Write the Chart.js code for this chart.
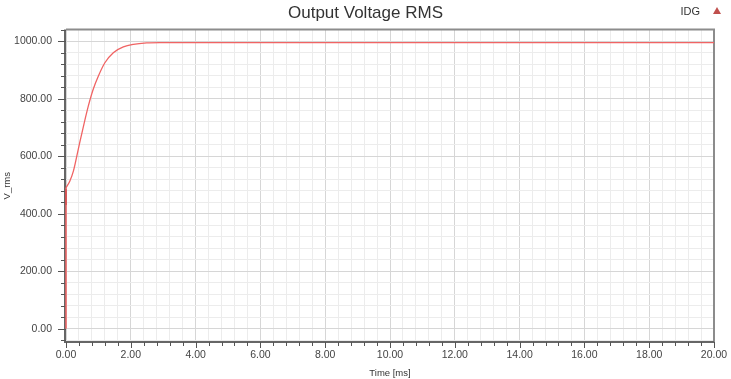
<!DOCTYPE html>
<html><head><meta charset="utf-8">
<script src="https://cdn.jsdelivr.net/npm/chart.js@4"></script>
<style>html,body{margin:0;padding:0;background:#fff}</style>
</head><body>
<canvas id="c" width="731" height="379"></canvas>
<script>
// ---- data ----
const chartTitle = 'Output Voltage RMS';
const seriesName = 'IDG';
const xTitle = 'Time [ms]';
const yTitle = 'V_rms';
const timeMs = [0, 0.12, 0.23, 0.38, 0.54, 0.69, 0.84, 1.0, 1.2, 1.46, 1.77, 2.08, 2.49, 2.9, 6, 10, 14, 20];
const vRms   = [490, 514, 549, 625, 705, 775, 833, 879, 925, 960, 980, 989, 994, 995, 995, 995, 995, 995];
const startTime = [0, 0];
const startV = [0, 490];
const darkTime = [0, 0];
const darkV = [430, 485];
const xMin = 0, xMax = 20, xTickStep = 0.4, xLabelStep = 2;
const yMin = -46, yMax = 1041, yTickStep = 40, yLabelStep = 200;

const toPts = (xs, ys) => xs.map((x, i) => ({x: x, y: ys[i]}));
const isMajor = (v, step) => Math.abs(v / step - Math.round(v / step)) < 1e-6;
const stepTicks = (min, max, step) => {
  const out = [];
  for (let k = Math.ceil(min / step); k * step <= max + 1e-9; k++) out.push({value: +(k * step).toFixed(6)});
  return out;
};
const FONT = '"Liberation Sans", Arial, sans-serif';

const decor = {
  id: 'decor',
  beforeDatasetsDraw(chart) {
    const {ctx, chartArea: a, scales} = chart;
    ctx.save();
    ctx.strokeStyle = '#8c8c8c';
    ctx.lineWidth = 2;
    ctx.beginPath();
    ctx.moveTo(a.left, a.top); ctx.lineTo(a.right, a.top); ctx.lineTo(a.right, a.bottom);
    ctx.stroke();
    ctx.strokeStyle = '#666';
    ctx.beginPath();
    ctx.moveTo(a.left - 1, a.top); ctx.lineTo(a.left - 1, a.bottom); ctx.lineTo(a.right, a.bottom);
    ctx.stroke();
    ctx.lineWidth = 1;
    ctx.strokeStyle = '#555';
    const xs = scales.x, ys = scales.y;
    xs.ticks.forEach(t => {
      const px = Math.round(xs.getPixelForValue(t.value)) + 0.5;
      const len = isMajor(t.value, xLabelStep) ? 6 : 4;
      ctx.beginPath(); ctx.moveTo(px, a.bottom); ctx.lineTo(px, a.bottom + len); ctx.stroke();
    });
    ys.ticks.forEach(t => {
      const py = Math.round(ys.getPixelForValue(t.value)) + 0.5;
      const len = isMajor(t.value, yLabelStep) ? 8 : 5;
      ctx.beginPath(); ctx.moveTo(a.left - len, py); ctx.lineTo(a.left, py); ctx.stroke();
    });
    ctx.fillStyle = '#333';
    ctx.font = '11px ' + FONT;
    ctx.textAlign = 'right';
    ctx.textBaseline = 'middle';
    ctx.fillText(seriesName, chart.width - 31, 12);
    ctx.fillStyle = '#c0504d';
    const tx = chart.width - 14, ty = 11;
    ctx.beginPath();
    ctx.moveTo(tx, ty - 4); ctx.lineTo(tx + 4, ty + 3); ctx.lineTo(tx - 4, ty + 3); ctx.closePath();
    ctx.fill();
    ctx.restore();
  }
};

new Chart(document.getElementById('c'), {
  type: 'scatter',
  data: {
    datasets: [
      {label: seriesName, data: toPts(timeMs, vRms), showLine: true, borderColor: 'rgb(240,100,100)', borderWidth: 1.3, pointRadius: 0, cubicInterpolationMode: 'monotone', fill: false, clip: 4},
      {label: seriesName + ' start', data: toPts(startTime, startV), showLine: true, borderColor: 'rgb(240,100,100)', borderWidth: 1.5, pointRadius: 0, clip: 4},
      {label: seriesName + ' mark', data: toPts(darkTime, darkV), showLine: true, borderColor: '#7a0a0a', borderWidth: 1.5, pointRadius: 0, clip: 4}
    ]
  },
  options: {
    responsive: false,
    animation: false,
    devicePixelRatio: 1,
    layout: {padding: 0},
    plugins: {
      legend: {display: false},
      tooltip: {enabled: false},
      title: {display: true, text: chartTitle, color: '#333', font: {family: FONT, size: 17, weight: 'normal'}, padding: {top: 3, bottom: 6}}
    },
    scales: {
      x: {
        type: 'linear', min: xMin, max: xMax,
        afterBuildTicks: s => { s.ticks = stepTicks(xMin, xMax, xTickStep); },
        afterFit: s => { s.height = 37; s.paddingLeft = 0; s.paddingRight = 0; },
        grid: {color: c => (c.tick && isMajor(c.tick.value, xLabelStep)) ? '#d6d6d6' : '#ececec', drawTicks: false, lineWidth: 1},
        border: {display: false},
        ticks: {autoSkip: false, maxRotation: 0, padding: 7, color: '#444', font: {family: FONT, size: 10.5},
          callback: v => isMajor(v, xLabelStep) ? v.toFixed(2) : ''},
        title: {display: true, text: xTitle, color: '#333', font: {family: FONT, size: 9.5}, padding: {top: 0, bottom: 0}}
      },
      y: {
        type: 'linear', min: yMin, max: yMax,
        afterBuildTicks: s => { s.ticks = stepTicks(yMin, yMax, yTickStep); },
        afterFit: s => { s.width = 66; s.paddingTop = 0; s.paddingBottom = 0; },
        grid: {color: c => (c.tick && isMajor(c.tick.value, yLabelStep)) ? '#d6d6d6' : '#ececec', drawTicks: false, lineWidth: 1},
        border: {display: false},
        ticks: {autoSkip: false, padding: 14, color: '#444', font: {family: FONT, size: 10.5},
          callback: v => isMajor(v, yLabelStep) ? v.toFixed(2) : ''},
        title: {display: true, text: yTitle, color: '#333', font: {family: FONT, size: 9.5}, padding: {top: 2, bottom: 0}}
      },
      yR: {
        position: 'right', type: 'linear', display: true,
        afterFit: s => { s.width = 17; s.paddingTop = 0; s.paddingBottom = 0; },
        grid: {display: false, drawTicks: false}, border: {display: false},
        ticks: {display: false}
      }
    }
  },
  plugins: [decor]
});
</script>
</body></html>
